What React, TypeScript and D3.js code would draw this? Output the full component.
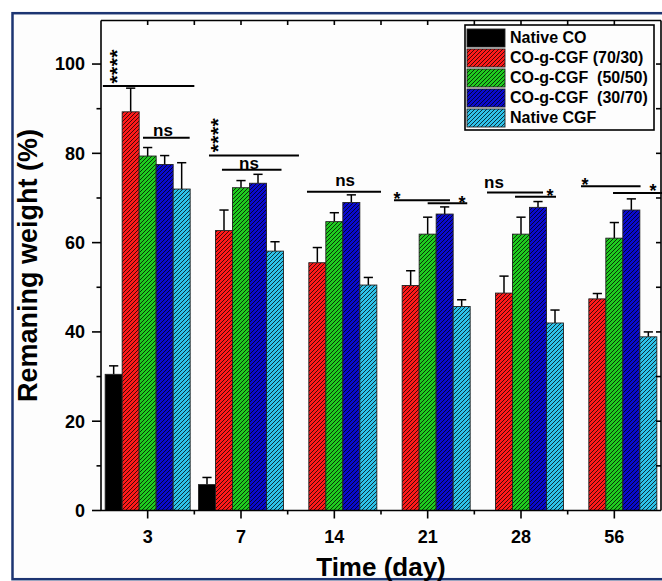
import React from "react";
import * as d3 from "d3";

const days = ["3", "7", "14", "21", "28", "56"];
const seriesNames = ["Native CO", "CO-g-CGF (70/30)", "CO-g-CGF  (50/50)", "CO-g-CGF  (30/70)", "Native CGF"];
const seriesColors = ["#000000", "#ff1a1a", "#1fcc1f", "#0a0ad0", "#2ec2ea"];
const hatched = [false, true, true, true, true];

const nativeCO = [30.5, 5.8, null, null, null, null];
const nativeCOErr = [1.9, 1.6, null, null, null, null];
const co7030 = [89.3, 62.7, 55.5, 50.4, 48.7, 47.4];
const co7030Err = [5.3, 4.6, 3.4, 3.3, 3.8, 1.2];
const co5050 = [79.4, 72.3, 64.7, 61.9, 61.9, 61.0];
const co5050Err = [1.9, 1.6, 2.0, 3.8, 3.8, 3.5];
const co3070 = [77.5, 73.3, 69.0, 66.4, 67.9, 67.3];
const co3070Err = [2.0, 2.0, 1.7, 1.6, 1.3, 2.5];
const nativeCGF = [72.0, 58.1, 50.5, 45.7, 42.0, 38.9];
const nativeCGFErr = [5.9, 2.1, 1.7, 1.5, 2.9, 1.1];

const seriesValues = [nativeCO, co7030, co5050, co3070, nativeCGF];
const seriesErrors = [nativeCOErr, co7030Err, co5050Err, co3070Err, nativeCGFErr];

const yMajorTicks = [0, 20, 40, 60, 80, 100];
const yMinorTicks = [10, 30, 50, 70, 90];
const yRightTicks = [10, 20, 30, 40, 50, 60, 70, 80, 90, 100];

// significance brackets: day, offsets (in band units from the day centre), y value
const brackets = [
  { day: "3", x1: -0.48, x2: 0.5, y: 95.1 },
  { day: "3", x1: -0.05, x2: 0.45, y: 83.5 },
  { day: "7", x1: -0.343, x2: 0.621, y: 79.5 },
  { day: "7", x1: -0.204, x2: 0.434, y: 76.3 },
  { day: "14", x1: -0.293, x2: 0.5, y: 71.4 },
  { day: "21", x1: -0.361, x2: 0.239, y: 69.5 },
  { day: "21", x1: 0.0, x2: 0.424, y: 68.8 },
  { day: "28", x1: -0.364, x2: 0.236, y: 71.2 },
  { day: "28", x1: -0.064, x2: 0.375, y: 70.3 },
  { day: "56", x1: -0.357, x2: 0.281, y: 72.6 },
  { day: "56", x1: -0.014, x2: 0.56, y: 71.1 },
];
const nsLabels = [
  { day: "3", x: 0.164, y: 83.9 },
  { day: "7", x: 0.086, y: 76.6 },
  { day: "14", x: 0.115, y: 72.7 },
  { day: "28", x: -0.289, y: 72.2 },
];
// vertical star columns (centre)
const starColumns = [
  { day: "3", x: -0.385, y: 99.5, text: "****" },
  { day: "7", x: -0.3, y: 84.1, text: "****" },
];
// single star centres
const stars = [
  { day: "21", x: -0.329, y: 70.7 },
  { day: "21", x: 0.368, y: 69.8 },
  { day: "28", x: 0.311, y: 71.4 },
  { day: "56", x: -0.314, y: 73.8 },
  { day: "56", x: 0.415, y: 72.5 },
];

const W = 662;
const H = 581;
const L = 101;
const R = 661;
const T = 20.5;
const B = 510.5;
const FONT = "'Liberation Sans', Arial, Helvetica, sans-serif";

export default function App() {
  const y = d3.scaleLinear().domain([0, 110]).range([B, 19.4]);
  const x = d3.scaleBand().domain(days).range([L, R]).paddingInner(0).paddingOuter(0);
  const bw = x.bandwidth();
  const xs = d3.scaleBand().domain(seriesNames).range([0, bw]).paddingInner(0).paddingOuter(0.245);
  const barW = xs.bandwidth();
  const cx = (d: string) => (x(d) as number) + bw / 2;
  const bx = (d: string, off: number) => cx(d) + off * bw;

  const boundaries = d3.range(1, days.length).map((i) => L + i * bw);

  return (
    <svg width={W} height={H} style={{ position: "absolute", left: 0, top: 0, background: "#ffffff" }} fontFamily={FONT}>
      <defs>
        <pattern id="hatch" patternUnits="userSpaceOnUse" width="4" height="4">
          <path d="M-1,1 l2,-2 M0,4 l4,-4 M3,5 l2,-2" stroke="#000" strokeWidth="0.75" />
        </pattern>
      </defs>
      <rect x={12.5} y={13.2} width={700} height={566} fill="#fdfdfd" stroke="#1d3572" strokeWidth={2.5} />

      {/* bars */}
      {seriesNames.map((s, si) =>
        days.map((d, di) => {
          const v = seriesValues[si][di];
          if (v == null) return null;
          const e = seriesErrors[si][di] as number;
          const bxPos = (x(d) as number) + (xs(s) as number);
          const top = y(v);
          const mid = bxPos + barW / 2;
          return (
            <g key={s + d}>
              <line x1={mid} x2={mid} y1={top} y2={y(v + e)} stroke="#000" strokeWidth={1.5} />
              <line x1={mid - 4.6} x2={mid + 4.6} y1={y(v + e)} y2={y(v + e)} stroke="#000" strokeWidth={1.5} />
              <rect x={bxPos} y={top} width={barW} height={B - top} fill={seriesColors[si]} />
              {hatched[si] && <rect x={bxPos} y={top} width={barW} height={B - top} fill="url(#hatch)" />}
              <rect x={bxPos} y={top} width={barW} height={B - top} fill="none" stroke="#222" strokeWidth={0.9} />
            </g>
          );
        })
      )}

      {/* axes frame */}
      <line x1={L} x2={R} y1={B} y2={B} stroke="#000" strokeWidth={1.6} />
      <line x1={L} x2={R} y1={T} y2={T} stroke="#000" strokeWidth={1.6} />
      <line x1={L} x2={L} y1={T} y2={B} stroke="#000" strokeWidth={1.6} />
      <line x1={R} x2={R} y1={T} y2={B} stroke="#000" strokeWidth={1.6} />

      {/* left ticks */}
      {yMajorTicks.map((t) => (
        <g key={"ym" + t}>
          <line x1={L - 9} x2={L} y1={y(t)} y2={y(t)} stroke="#000" strokeWidth={1.6} />
          <text x={85} y={y(t) + 6.4} textAnchor="end" fontSize={18} fontWeight="bold">
            {t}
          </text>
        </g>
      ))}
      {yMinorTicks.map((t) => (
        <line key={"yn" + t} x1={L - 4.5} x2={L} y1={y(t)} y2={y(t)} stroke="#000" strokeWidth={1.6} />
      ))}
      {yRightTicks.map((t) => (
        <line key={"yr" + t} x1={R - 5} x2={R} y1={y(t)} y2={y(t)} stroke="#000" strokeWidth={1.6} />
      ))}

      {/* bottom & top ticks */}
      {days.map((d) => (
        <g key={"xt" + d}>
          <line x1={cx(d)} x2={cx(d)} y1={B} y2={B + 8} stroke="#000" strokeWidth={1.6} />
          <line x1={cx(d)} x2={cx(d)} y1={T} y2={T + 4.5} stroke="#000" strokeWidth={1.6} />
          <text x={cx(d)} y={543} textAnchor="middle" fontSize={18} fontWeight="bold">
            {d}
          </text>
        </g>
      ))}
      {boundaries.map((b) => (
        <g key={"xb" + b}>
          <line x1={b} x2={b} y1={B} y2={B + 4} stroke="#000" strokeWidth={1.6} />
          <line x1={b} x2={b} y1={T} y2={T + 4.5} stroke="#000" strokeWidth={1.6} />
        </g>
      ))}

      {/* titles */}
      <text x={381} y={576} textAnchor="middle" fontSize={26} fontWeight="bold">
        Time (day)
      </text>
      <text transform="translate(36.7,265.5) rotate(-90)" textAnchor="middle" fontSize={27} fontWeight="bold">
        Remaning weight (%)
      </text>

      {/* significance */}
      {brackets.map((b, i) => (
        <line key={"br" + i} x1={bx(b.day, b.x1)} x2={bx(b.day, b.x2)} y1={y(b.y)} y2={y(b.y)} stroke="#000" strokeWidth={2} />
      ))}
      {nsLabels.map((n, i) => (
        <text key={"ns" + i} x={bx(n.day, n.x)} y={y(n.y)} textAnchor="middle" fontSize={17} fontWeight="bold">
          ns
        </text>
      ))}
      {starColumns.map((s, i) => (
        <text
          key={"sc" + i}
          transform={`translate(${bx(s.day, s.x) + 12.1},${y(s.y)}) rotate(-90)`}
          textAnchor="middle"
          fontSize={21}
          fontWeight="bold"
          style={{ letterSpacing: "0.45px" }}
        >
          {s.text}
        </text>
      ))}
      {stars.map((s, i) => (
        <text key={"st" + i} x={bx(s.day, s.x)} y={y(s.y) + 10.3} textAnchor="middle" fontSize={18} fontWeight="bold">
          *
        </text>
      ))}

      {/* legend */}
      <rect x={465} y={25} width={189} height={105} fill="#fdfdfd" stroke="#000" strokeWidth={1.6} />
      {seriesNames.map((s, i) => (
        <g key={"lg" + s}>
          <rect x={467} y={29 + i * 20} width={38} height={18} fill={seriesColors[i]} />
          {hatched[i] && <rect x={467} y={29 + i * 20} width={38} height={18} fill="url(#hatch)" />}
          <rect x={467} y={29 + i * 20} width={38} height={18} fill="none" stroke="#222" strokeWidth={0.9} />
          <text x={510} y={29 + i * 20 + 14.3} fontSize={16} fontWeight="bold" xmlSpace="preserve" style={{ whiteSpace: "pre" }}>
            {s}
          </text>
        </g>
      ))}
    </svg>
  );
}
